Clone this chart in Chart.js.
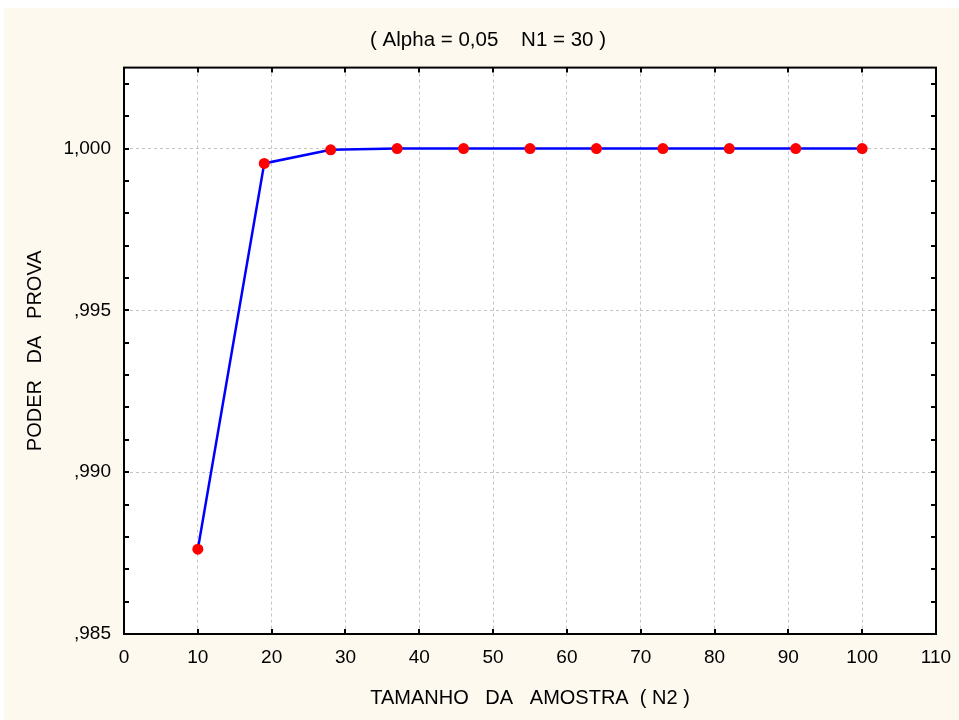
<!DOCTYPE html>
<html>
<head>
<meta charset="utf-8">
<script src="https://cdn.jsdelivr.net/npm/chart.js@4"></script>
<style>
  body { margin: 0; background: #fff; }
</style>
</head>
<body>
<canvas id="chart-1" width="959" height="720"></canvas>
<script>
// data
const sampleSizes = [10, 19, 28, 37, 46, 55, 64, 73, 82, 91, 100];
const power = [0.98762, 0.99954, 0.99996, 1.0, 1.0, 1.0, 1.0, 1.0, 1.0, 1.0, 1.0];

const xTicks = [0, 10, 20, 30, 40, 50, 60, 70, 80, 90, 100, 110];
const yTicks = [0.985, 0.990, 0.995, 1.000];
const yMinorTicks = [0.985, 0.986, 0.987, 0.988, 0.989, 0.990, 0.991, 0.992, 0.993,
  0.994, 0.995, 0.996, 0.997, 0.998, 0.999, 1.000, 1.001, 1.002];

const FONT = '"Liberation Sans", Arial, sans-serif';
const CREAM = 'rgb(253, 249, 238)';

// cream page, white plot box, black frame with inward ticks
const frame = {
  id: 'frame',
  beforeDraw(chart) {
    const c = chart.ctx, a = chart.chartArea;
    c.save();
    c.fillStyle = '#fff';
    c.fillRect(0, 0, chart.width, chart.height);
    c.fillStyle = CREAM;
    c.fillRect(4, 8, chart.width - 4, chart.height - 8);
    c.fillStyle = '#fff';
    c.fillRect(a.left, a.top, a.right - a.left, a.bottom - a.top);
    c.restore();
  },
  afterDraw(chart) {
    const c = chart.ctx, a = chart.chartArea;
    const xs = chart.scales.x, ys = chart.scales.y;
    const line = (x1, y1, x2, y2) => { c.beginPath(); c.moveTo(x1, y1); c.lineTo(x2, y2); c.stroke(); };
    c.save();
    c.strokeStyle = '#000';
    c.lineWidth = 2;
    yMinorTicks.forEach(v => {
      const p = Math.round(ys.getPixelForValue(v));
      line(a.left, p, a.left + 5, p);
      line(a.right - 5, p, a.right, p);
    });
    xTicks.forEach(v => {
      const p = Math.round(xs.getPixelForValue(v));
      line(p, a.top, p, a.top + 5);
      line(p, a.bottom - 5, p, a.bottom);
    });
    c.strokeRect(a.left, a.top, a.right - a.left, a.bottom - a.top);
    c.restore();
  }
};

const ctx1 = document.getElementById('chart-1').getContext('2d');

const myChart = new Chart(ctx1, {
  type: 'scatter',
  data: {
    datasets: [{
      data: sampleSizes.map((x, i) => ({ x: x, y: power[i] })),
      showLine: true,
      borderColor: '#0000ff',
      borderWidth: 2.5,
      tension: 0,
      pointRadius: 5.5,
      pointBorderWidth: 0,
      pointBackgroundColor: '#ff0000',
      pointBorderColor: '#ff0000'
    }]
  },
  options: {
    responsive: false,
    animation: false,
    plugins: {
      legend: { display: false },
      tooltip: { enabled: false },
      title: {
        display: true,
        text: '   ( Alpha = 0,05    N1 = 30 )',
        color: '#000',
        font: { family: FONT, size: 20.5, weight: 'normal' },
        padding: { top: 28, bottom: 15 }
      }
    },
    scales: {
      x: {
        type: 'linear',
        min: 0,
        max: 110,
        afterBuildTicks: s => { s.ticks = xTicks.map(v => ({ value: v })); },
        afterFit: s => { s.height = 86; s.paddingLeft = 0; s.paddingRight = 0; },
        grid: { color: '#c4c4c4', drawTicks: false },
        border: { display: false, dash: [3, 3] },
        ticks: { padding: 12, color: '#000', font: { family: FONT, size: 19 } },
        title: {
          display: true,
          text: 'TAMANHO   DA   AMOSTRA  ( N2 )',
          color: '#000',
          font: { family: FONT, size: 20 },
          padding: { top: 0, bottom: 10 }
        }
      },
      y: {
        type: 'linear',
        min: 0.985,
        max: 1.0025,
        afterBuildTicks: s => { s.ticks = yTicks.map(v => ({ value: v })); },
        afterFit: s => { s.width = 124; },
        grid: { color: '#c4c4c4', drawTicks: false },
        border: { display: false, dash: [3, 3] },
        ticks: {
          padding: 13,
          color: '#000',
          font: { family: FONT, size: 19 },
          callback: v => v.toFixed(3).replace(/^0\./, ',').replace('.', ',')
        },
        title: {
          display: true,
          text: 'PODER   DA   PROVA',
          color: '#000',
          font: { family: FONT, size: 20 },
          padding: { top: 23, bottom: 0 }
        }
      },
      // empty strip on the right, only keeps the plot box off the edge
      yRight: {
        type: 'linear',
        position: 'right',
        display: true,
        afterFit: s => { s.width = 23; },
        grid: { display: false },
        border: { display: false },
        ticks: { display: false }
      }
    }
  },
  plugins: [frame]
});
</script>
</body>
</html>
